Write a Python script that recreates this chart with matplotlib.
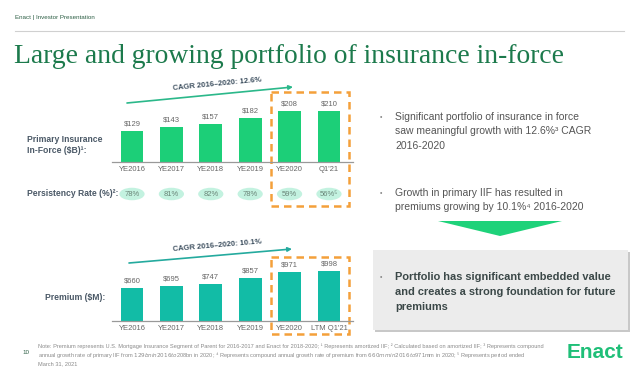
import matplotlib.pyplot as plt
import matplotlib.patches as patches
import matplotlib.transforms as mtransforms

plt.rcParams['font.family'] = ['Liberation Sans', 'DejaVu Sans']

# ===============================
# Data
# ===============================
iif_years = ["YE2016", "YE2017", "YE2018", "YE2019", "YE2020", "Q1'21"]
iif = [129, 143, 157, 182, 208, 210]
persistency = ["78%", "81%", "82%", "78%", "59%", "56%⁵"]

prem_years = ["YE2016", "YE2017", "YE2018", "YE2019", "YE2020", "LTM Q1'21"]
premium = [660, 695, 747, 857, 971, 998]

# ===============================
# Canvas in pixel coords
# ===============================
W, H = 640, 385
fig = plt.figure(figsize=(6.4, 3.85), dpi=100)
fig.patch.set_facecolor('white')

bg = fig.add_axes([0, 0, 1, 1])
bg.set_xlim(0, W)
bg.set_ylim(H, 0)
bg.axis('off')


def px_axes(x0, y0, x1, y1):
    return fig.add_axes([x0 / W, 1 - y1 / H, (x1 - x0) / W, (y1 - y0) / H])


GREY = '#666666'
LABEL = '#4a5866'

# header
bg.text(15, 18, "Enact | Investor Presentation", fontsize=4.5, color='#2d5f45', va='center')
bg.plot([15, 624], [31, 31], color='#d0d0d0', lw=0.8)
bg.text(14, 63, "Large and growing portfolio of insurance in-force", fontsize=19.9,
        family=['Liberation Serif', 'DejaVu Serif'], color='#1c7a4c', va='baseline')


# ===============================
# Bar panels
# ===============================
def bar_panel(y_top, y_base, values, labels, ymax, color):
    ax = px_axes(112.3, y_top, 352.6, y_base)
    ax.patch.set_alpha(0)
    ax.bar(range(len(values)), values, width=0.58, color=color)
    for i, v in enumerate(values):
        ax.annotate(f"${v}", (i, v), xytext=(0, 2.5), textcoords='offset points',
                    ha='center', va='bottom', fontsize=5.5, color=GREY)
    ax.set_xlim(-0.5, 5.6)
    ax.set_ylim(0, ymax)
    ax.set_xticks(range(len(labels)), labels, fontsize=5.5, color=GREY)
    ax.tick_params(length=0, pad=3)
    ax.set_yticks([])
    for s in ['top', 'right', 'left']:
        ax.spines[s].set_visible(False)
    ax.spines['bottom'].set_color('#999999')
    ax.spines['bottom'].set_linewidth(0.9)
    return ax


ax_top = bar_panel(92, 162, iif, iif_years, 70 / 0.243, '#1ccf78')
ax_bot = bar_panel(251, 321, premium, prem_years, 70 / 0.05, '#12bca6')

# persistency pills
trans = mtransforms.blended_transform_factory(ax_top.transData, bg.transData)
for i, p in enumerate(persistency):
    bg.add_patch(patches.Ellipse((i, 194), 0.64, 12.5, transform=trans,
                                 facecolor='#c3f2e0', edgecolor='none'))
    bg.text(i, 194, p, transform=trans, ha='center', va='center', fontsize=5.5, color='#6a8578')

# left labels
bg.text(27, 145, "Primary Insurance\nIn-Force ($B)¹:", fontsize=6.2, fontweight='bold',
        color=LABEL, va='center', linespacing=1.35)
bg.text(27, 194, "Persistency Rate (%)²:", fontsize=6.2, fontweight='bold', color=LABEL, va='center')
bg.text(45, 297, "Premium ($M):", fontsize=6.2, fontweight='bold', color=LABEL, va='center')

# CAGR arrows
arrow_kw = dict(arrowstyle='-|>', lw=1.2, mutation_scale=6, shrinkA=0, shrinkB=0)
bg.annotate('', xy=(293, 87), xytext=(127, 103), arrowprops=dict(color='#2bb88a', **arrow_kw))
bg.text(217, 86, "CAGR 2016–2020: 12.6%", rotation=5.5, rotation_mode='anchor',
        ha='center', va='baseline', fontsize=5.5, fontweight='bold', color='#3d4f5f')
bg.annotate('', xy=(292, 249), xytext=(129, 263), arrowprops=dict(color='#24aa9e', **arrow_kw))
bg.text(217, 247.5, "CAGR 2016–2020: 10.1%", rotation=4.9, rotation_mode='anchor',
        ha='center', va='baseline', fontsize=5.5, fontweight='bold', color='#3d4f5f')

# orange dashed highlight boxes
for y0, y1 in [(92, 206), (257, 334)]:
    bg.add_patch(patches.Rectangle((271, y0), 78, y1 - y0, fill=False, edgecolor='#f4a03a',
                                   lw=1.8, linestyle=(0, (3, 2))))

# ===============================
# Right-hand commentary
# ===============================
TXT = '#555555'
bullets = [
    (117, ["Significant portfolio of insurance in force",
           "saw meaningful growth with 12.6%³ CAGR",
           "2016-2020"]),
    (193, ["Growth in primary IIF has resulted in",
           "premiums growing by 10.1%⁴ 2016-2020"]),
]
for y, lines in bullets:
    bg.text(381, y, "•", fontsize=5, color='#888888', va='center', ha='center')
    for k, line in enumerate(lines):
        bg.text(395, y + k * 14.5, line, fontsize=7.5, color=TXT, va='center')

bg.add_patch(patches.Polygon([(438, 221), (562, 221), (500, 236)], closed=True,
                             facecolor='#1ed27a', edgecolor='none'))

bg.add_patch(patches.Rectangle((375, 252), 255, 80, facecolor='#c8c8c8', edgecolor='none'))
bg.add_patch(patches.Rectangle((373, 250), 255, 80, facecolor='#ececec', edgecolor='none'))
bg.text(381, 277, "•", fontsize=5, color='#888888', va='center', ha='center')
for k, line in enumerate(["Portfolio has significant embedded value",
                          "and creates a strong foundation for future",
                          "premiums"]):
    bg.text(395, 277 + k * 15, line, fontsize=7.9, fontweight='bold', color='#3b4848', va='center')

# ===============================
# Footer
# ===============================
bg.text(22, 352, "10", fontsize=4.5, color='#2d5f45', va='center')
foot = ("Note: Premium represents U.S. Mortgage Insurance Segment of Parent for 2016-2017 and Enact for 2018-2020; "
        "¹ Represents amortized IIF; ² Calculated based on amortized IIF; ³ Represents compound\n"
        "annual growth rate of primary IIF from $129bn in 2016 to $208bn in 2020; ⁴ Represents compound annual "
        "growth rate of premium from $660mm in 2016 to $971mm in 2020; ⁵ Represents period ended\n"
        "March 31, 2021")
bg.text(38, 343, foot, fontsize=4.1, color='#8a8a8a', va='top', linespacing=1.25)
bg.text(567, 352, "Enact", fontsize=15, fontweight='bold', color='#1fbf78', va='center')

fig.savefig('out.png', dpi=100)
